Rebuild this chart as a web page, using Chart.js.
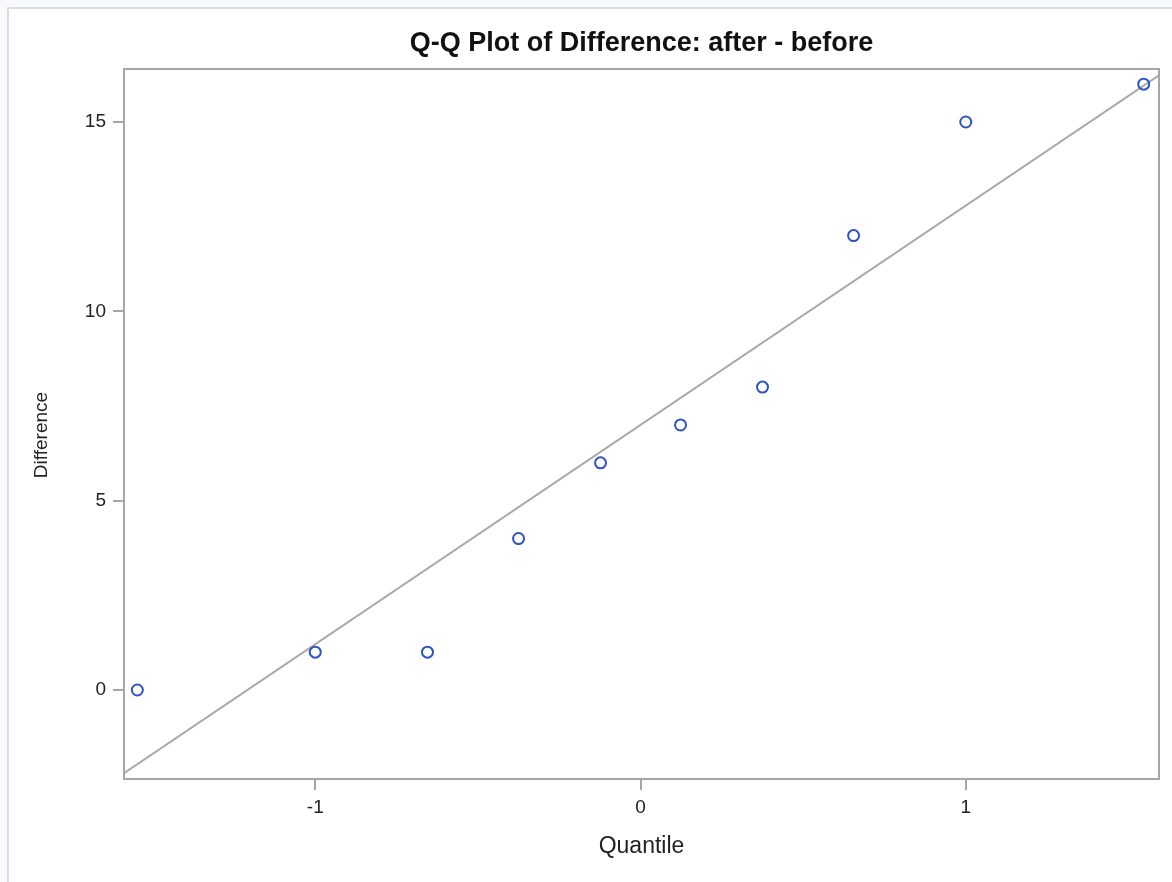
<!DOCTYPE html>
<html>
<head>
<meta charset="utf-8">
<title>Q-Q Plot of Difference: after - before</title>
<script src="https://cdn.jsdelivr.net/npm/chart.js@4.4.1/dist/chart.umd.min.js"></script>
<style>
  html, body { margin: 0; padding: 0; }
  body { width: 1172px; height: 882px; background: #f8f9fc; position: relative; overflow: hidden; }
  #panel { position: absolute; left: 7px; top: 7px; width: 1200px; height: 900px;
           background: #ffffff; border-left: 2px solid #dcdde1; border-top: 2px solid #dcdde1; }
  #wrap { position: absolute; left: 0; top: 0; width: 1172px; height: 882px; }
</style>
</head>
<body>
<div id="panel"></div>
<div id="wrap"><canvas id="qq" width="1172" height="882"></canvas></div>
<script>
// Normal quantiles (Blom scores) and the sorted paired differences
const quantiles   = [-1.547, -1.000, -0.655, -0.375, -0.123, 0.123, 0.375, 0.655, 1.000, 1.547];
const differences = [0, 1, 1, 4, 6, 7, 8, 12, 15, 16];

// Axis ranges and tick labels
const xRange = [-1.588, 1.594];
const yRange = [-2.35, 16.4];
const xTicks = [-1, 0, 1];
const yTicks = [0, 5, 10, 15];

// Reference line: mean + sd * quantile, estimated from the differences
const n = differences.length;
const mu = differences.reduce((a, b) => a + b, 0) / n;
const sigma = Math.sqrt(differences.reduce((a, b) => a + (b - mu) * (b - mu), 0) / (n - 1));
const refLine = xRange.map(q => ({ x: q, y: mu + sigma * q }));

const points = quantiles.map((q, i) => ({ x: q, y: differences[i] }));

const FONT = "'Liberation Sans', Arial, sans-serif";
const AXIS = '#a3a6aa';
const yTitle = 'Difference';

// Draws the top and right sides of the plot frame, and the vertical axis title
const frame = {
  id: 'frame',
  afterDraw(chart) {
    const { ctx, chartArea: a } = chart;
    ctx.save();
    ctx.strokeStyle = AXIS;
    ctx.lineWidth = 2;
    ctx.beginPath();
    ctx.moveTo(a.left, a.top);
    ctx.lineTo(a.right, a.top);
    ctx.lineTo(a.right, a.bottom);
    ctx.stroke();

    ctx.translate(42, (a.top + a.bottom) / 2 + 11);
    ctx.rotate(-Math.PI / 2);
    ctx.fillStyle = '#222';
    ctx.font = `19px ${FONT}`;
    ctx.textAlign = 'center';
    ctx.textBaseline = 'middle';
    ctx.fillText(yTitle, 0, 0);
    ctx.restore();
  }
};

new Chart(document.getElementById('qq'), {
  type: 'scatter',
  data: {
    datasets: [
      {
        type: 'line',
        data: refLine,
        borderColor: '#a8a8a8',
        borderWidth: 2,
        pointRadius: 0,
        fill: false,
        order: 2
      },
      {
        data: points,
        pointStyle: 'circle',
        pointRadius: 5.5,
        pointBorderWidth: 2,
        pointBorderColor: '#2d54c0',
        pointBackgroundColor: 'rgba(255,255,255,0)',
        order: 1
      }
    ]
  },
  options: {
    responsive: false,
    animation: false,
    events: [],
    layout: { padding: { left: 0, right: 13, top: 0, bottom: 0 } },
    plugins: {
      legend: { display: false },
      tooltip: { enabled: false },
      title: {
        display: true,
        fullSize: false,
        text: 'Q-Q Plot of Difference: after - before',
        color: '#111',
        font: { family: FONT, size: 27, weight: 'bold', lineHeight: 1.2 },
        padding: { top: 27.5, bottom: 9.1 }
      }
    },
    scales: {
      x: {
        type: 'linear',
        min: xRange[0],
        max: xRange[1],
        afterBuildTicks: s => { s.ticks = xTicks.map(v => ({ value: v })); },
        afterFit: s => { s.height = 103; },
        ticks: { color: '#222', font: { family: FONT, size: 19 }, padding: 6 },
        grid: { drawOnChartArea: false, color: AXIS, lineWidth: 2, tickLength: 11 },
        border: { display: true, color: AXIS, width: 2 },
        title: {
          display: true, text: 'Quantile', color: '#222',
          font: { family: FONT, size: 23, lineHeight: 1.2 },
          padding: { top: 0, bottom: 22 }
        }
      },
      y: {
        type: 'linear',
        min: yRange[0],
        max: yRange[1],
        afterBuildTicks: s => { s.ticks = yTicks.map(v => ({ value: v })); },
        afterFit: s => { s.width = 124; },
        ticks: { color: '#222', font: { family: FONT, size: 19 }, padding: 7 },
        grid: { drawOnChartArea: false, color: AXIS, lineWidth: 2, tickLength: 11 },
        border: { display: true, color: AXIS, width: 2 }
      }
    }
  },
  plugins: [frame]
});
</script>
</body>
</html>
